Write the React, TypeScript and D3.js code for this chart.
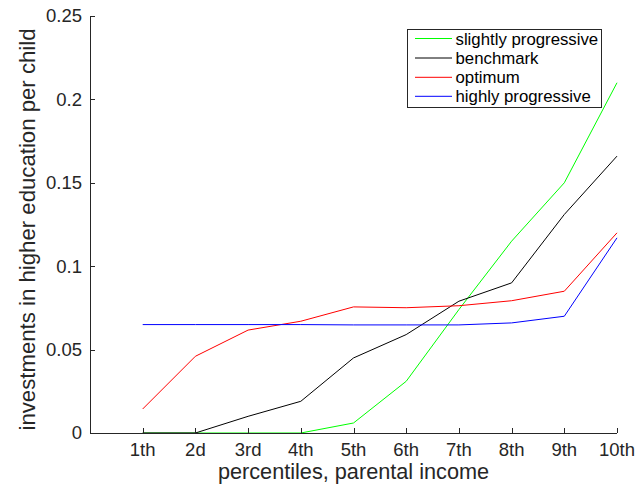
import React from "react";
import * as d3 from "d3";

const categories = ["1th", "2d", "3rd", "4th", "5th", "6th", "7th", "8th", "9th", "10th"];
const slightlyProgressive = [0, 0, 0, 0, 0.006, 0.031, 0.074, 0.115, 0.150, 0.210];
const benchmark = [0, 0, 0.010, 0.019, 0.045, 0.059, 0.079, 0.090, 0.131, 0.166];
const optimum = [0.0144, 0.046, 0.0617, 0.067, 0.0756, 0.0751, 0.0763, 0.0793, 0.085, 0.120];
const highlyProgressive = [0.065, 0.065, 0.065, 0.065, 0.0648, 0.0648, 0.0648, 0.066, 0.070, 0.117];
const yTicks = [0, 0.05, 0.1, 0.15, 0.2, 0.25];
const yTickLabels = ["0", "0.05", "0.1", "0.15", "0.2", "0.25"];

const series = [
  { name: "slightly progressive", values: slightlyProgressive, color: "#00ff00" },
  { name: "benchmark", values: benchmark, color: "#000000" },
  { name: "optimum", values: optimum, color: "#ff0000" },
  { name: "highly progressive", values: highlyProgressive, color: "#0000ff" },
];

const W = 640;
const H = 491;
const left = 90;
const right = 617;
const top = 16;
const bottom = 433;
const axisColor = "#262626";
const font = "'Liberation Sans', Arial, Helvetica, sans-serif";

export default function App() {
  const x = d3.scaleLinear().domain([0, categories.length]).range([left, right]);
  const y = d3.scaleLinear().domain([0, 0.25]).range([bottom, top]);
  const line = d3
    .line<number>()
    .x((_, i) => x(i + 1))
    .y((d) => y(d));

  const legendX = 407;
  const legendY = 29;
  const legendW = 194;
  const legendH = 78;
  const rowY = [38.5, 58, 77.3, 96.3];

  return (
    <svg
      width={W}
      height={H}
      style={{ position: "absolute", left: 0, top: 0, background: "#fff" }}
      fontFamily={font}
    >
      <rect x={0} y={0} width={W} height={H} fill="#fff" />
      {series.map((s) => (
        <path key={s.name} d={line(s.values) || ""} fill="none" stroke={s.color} strokeWidth={1} />
      ))}
      {/* y axis */}
      <line x1={left + 0.5} x2={left + 0.5} y1={top} y2={bottom} stroke={axisColor} strokeWidth={1} />
      {yTicks.map((t, i) => (
        <g key={t}>
          <line x1={left} x2={left + 5} y1={Math.round(y(t)) + 0.5} y2={Math.round(y(t)) + 0.5} stroke={axisColor} />
          <text x={left - 8} y={y(t)} dy="0.35em" textAnchor="end" fontSize={18.5} fill={axisColor}>
            {yTickLabels[i]}
          </text>
        </g>
      ))}
      {/* x axis */}
      <line x1={left} x2={right} y1={bottom + 0.5} y2={bottom + 0.5} stroke={axisColor} strokeWidth={1} />
      {categories.map((c, i) => (
        <g key={c}>
          <line
            x1={Math.round(x(i + 1)) + 0.5}
            x2={Math.round(x(i + 1)) + 0.5}
            y1={bottom}
            y2={bottom - 5}
            stroke={axisColor}
          />
          <text x={x(i + 1)} y={456} textAnchor="middle" fontSize={18.5} fill={axisColor}>
            {c}
          </text>
        </g>
      ))}
      <text x={(left + right) / 2} y={479} textAnchor="middle" fontSize={21.7} fill={axisColor}>
        percentiles, parental income
      </text>
      <text
        transform={`translate(35, ${(top + bottom) / 2 + 5}) rotate(-90)`}
        textAnchor="middle"
        fontSize={22.2}
        fill={axisColor}
      >
        investments in higher education per child
      </text>
      {/* legend */}
      <rect x={legendX + 0.5} y={legendY + 0.5} width={legendW} height={legendH} fill="#fff" stroke={axisColor} strokeWidth={1} />
      {series.map((s, i) => (
        <g key={s.name}>
          <line x1={415} x2={452} y1={rowY[i]} y2={rowY[i]} stroke={s.color} strokeWidth={1} />
          <text x={455.5} y={rowY[i]} dy="0.36em" fontSize={16.8} fill="#000">
            {s.name}
          </text>
        </g>
      ))}
    </svg>
  );
}
